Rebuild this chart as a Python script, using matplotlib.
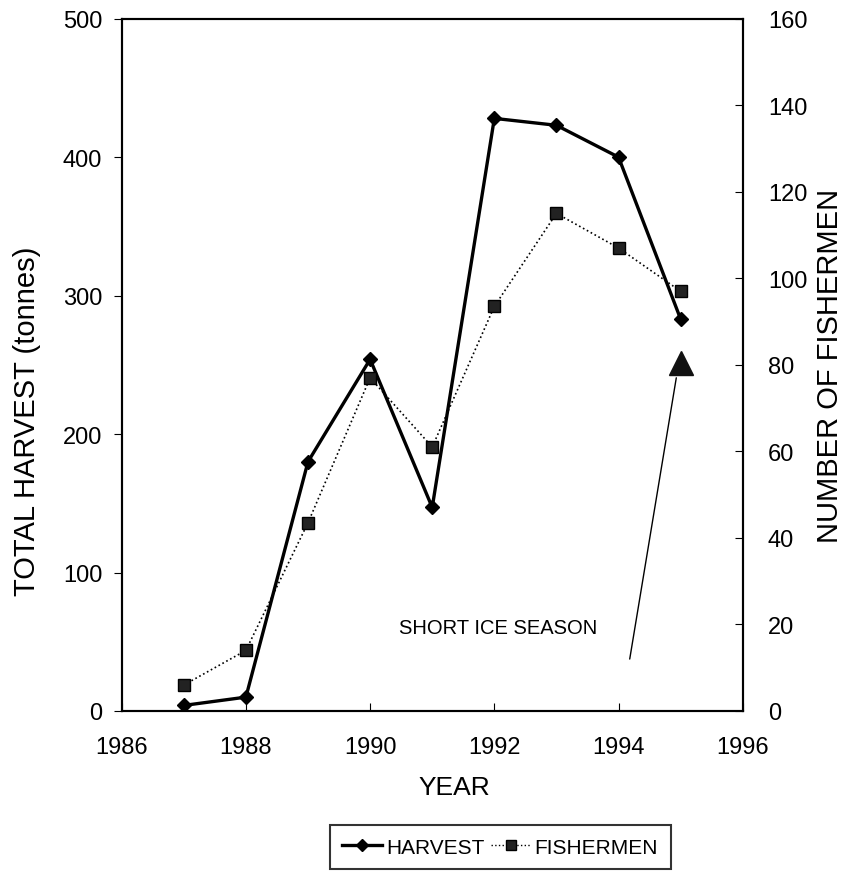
import matplotlib
matplotlib.use("Agg")
import matplotlib.pyplot as plt
from matplotlib.lines import Line2D

plt.rcParams["font.family"] = ["Liberation Sans", "DejaVu Sans"]

# Data
years = [1987, 1988, 1989, 1990, 1991, 1992, 1993, 1994, 1995]
harvest = [4, 10, 180, 254, 147, 428, 423, 400, 283]
fishermen = [6, 14, 43.5, 77, 61, 93.5, 115, 107, 97]
short_ice_year = 1995
short_ice_fishermen = 80.5

fig = plt.figure(figsize=(8.45, 8.95), dpi=100)
ax = fig.add_axes([0.144, 0.2045, 0.735, 0.7735])
ax2 = ax.twinx()

ax.plot(years, harvest, "-", color="black", lw=2.4, marker="D", ms=7,
        markerfacecolor="black", zorder=3)
ax2.plot(years, fishermen, ":", color="black", lw=1.2, marker="s", ms=8,
         markerfacecolor="#222222", markeredgecolor="black", zorder=3)
ax2.plot([short_ice_year], [short_ice_fishermen], marker="^", ms=17,
         color="#111111", linestyle="none", zorder=4)

ax.set_xlim(1986, 1996)
ax.set_ylim(0, 500)
ax2.set_ylim(0, 160)
ax.set_xticks(range(1986, 1997, 2))
ax.set_yticks(range(0, 501, 100))
ax2.set_yticks(range(0, 161, 20))

ax.tick_params(axis="x", direction="in", length=6, labelsize=17, pad=18)
ax.tick_params(axis="y", direction="out", length=6, labelsize=17, pad=8)
ax2.tick_params(axis="y", direction="in", length=6, labelsize=17, pad=18)
for a in (ax, ax2):
    for s in a.spines.values():
        s.set_linewidth(1.5)

ax.set_xlabel("YEAR", fontsize=19)
ax.set_ylabel("TOTAL HARVEST (tonnes)", fontsize=21)
ax2.set_ylabel("NUMBER OF FISHERMEN", fontsize=21)
ax.xaxis.set_label_coords(0.536, -0.092)
ax.yaxis.set_label_coords(-0.13, 0.42)
ax2.yaxis.set_label_coords(1.118, 0.5)

# label and pointer for the short ice season point
ax2.text(1993.65, 19.2, "SHORT ICE SEASON", ha="right", va="center", fontsize=14.5)
ax2.annotate("", xy=(short_ice_year - 0.07, 77), xytext=(1994.18, 12),
             arrowprops=dict(arrowstyle="-", color="black", lw=1.0,
                             shrinkA=0, shrinkB=0))

handles = [Line2D([], [], color="black", lw=2.4, marker="D", ms=6),
           Line2D([], [], color="black", lw=1.0, ls=":", marker="s", ms=7,
                  markerfacecolor="#222222")]
leg = fig.legend(handles, ["HARVEST", "FISHERMEN"], loc="center",
                 bbox_to_anchor=(0.592, 0.0525), ncol=2, fontsize=15,
                 frameon=True, fancybox=False, edgecolor="black",
                 handlelength=1.9, handletextpad=0.2, columnspacing=0.3,
                 borderpad=0.6)
leg.get_frame().set_linewidth(1.5)

fig.savefig("out.png", dpi=100)
